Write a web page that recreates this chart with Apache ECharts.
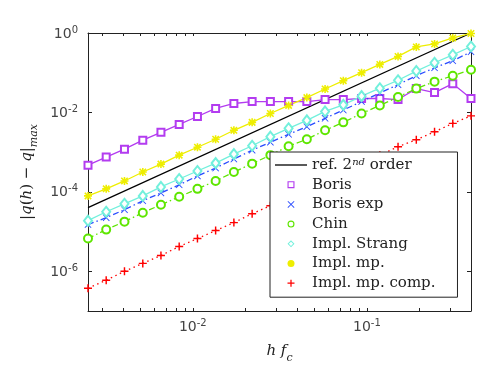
<!DOCTYPE html>
<html>
<head>
<meta charset="utf-8">
<script src="https://cdn.jsdelivr.net/npm/echarts@6/dist/echarts.min.js"></script>
<style>
html, body { margin: 0; padding: 0; background: #fff; }
#chart { width: 491px; height: 369px; }
</style>
</head>
<body>
<div id="chart"></div>
<script>
// step sizes h*f_c
var hfc = [0.0025, 0.00318, 0.00405, 0.00516, 0.00656, 0.00835, 0.01063, 0.01352, 0.01721, 0.02191, 0.02789,
  0.03549, 0.04517, 0.05749, 0.07317, 0.09315, 0.1186, 0.1509, 0.1921, 0.2445, 0.3112, 0.396];

var refX = [0.0025, 0.396];
var refY = [3.99e-5, 1];

var boris = [4.7e-4, 7.5e-4, 1.19e-3, 2.0e-3, 3.16e-3, 5.0e-3, 7.9e-3, 1.26e-2, 1.68e-2, 1.88e-2, 1.88e-2,
  1.88e-2, 1.88e-2, 2.11e-2, 2.11e-2, 2.24e-2, 2.24e-2, 2.11e-2, 3.98e-2, 3.16e-2, 5.3e-2, 2.24e-2];
var borisExp = [1.5e-5, 2.24e-5, 3.55e-5, 5.96e-5, 9.4e-5, 1.5e-4, 2.51e-4, 3.98e-4, 6.7e-4, 1.12e-3, 1.78e-3,
  2.82e-3, 4.37e-3, 7.1e-3, 1.15e-2, 1.88e-2, 3.09e-2, 5.0e-2, 8.4e-2, 0.133, 0.2, 0.335];
var chin = [6.7e-6, 1.12e-5, 1.78e-5, 2.99e-5, 4.73e-5, 7.5e-5, 1.19e-4, 1.88e-4, 3.16e-4, 5.13e-4, 8.4e-4,
  1.41e-3, 2.11e-3, 3.55e-3, 5.62e-3, 9.4e-3, 1.5e-2, 2.45e-2, 3.98e-2, 5.96e-2, 8.4e-2, 0.119];
var implStrang = [1.88e-5, 3.16e-5, 5.0e-5, 7.9e-5, 1.33e-4, 2.11e-4, 3.35e-4, 5.3e-4, 8.9e-4, 1.45e-3, 2.45e-3,
  3.98e-3, 6.3e-3, 1.06e-2, 1.55e-2, 2.57e-2, 4.07e-2, 6.46e-2, 0.11, 0.178, 0.282, 0.457];
var implMp = [7.9e-5, 1.19e-4, 1.88e-4, 3.16e-4, 5.0e-4, 8.4e-4, 1.33e-3, 2.11e-3, 3.55e-3, 5.62e-3, 9.4e-3,
  1.5e-2, 2.37e-2, 3.89e-2, 6.3e-2, 0.1, 0.162, 0.257, 0.447, 0.531, 0.75, 0.972];
var implMpComp = [3.76e-7, 5.96e-7, 1.0e-6, 1.58e-6, 2.51e-6, 4.2e-6, 6.7e-6, 1.06e-5, 1.68e-5, 2.82e-5, 4.47e-5,
  7.5e-5, 1.19e-4, 1.88e-4, 3.16e-4, 5.0e-4, 8.4e-4, 1.37e-3, 2.05e-3, 3.25e-3, 5.3e-3, 8.2e-3];

var xMajor = [0.01, 0.1];
var xTicks = [0.003, 0.004, 0.005, 0.006, 0.007, 0.008, 0.009, 0.01, 0.02, 0.03, 0.04, 0.05, 0.06, 0.07, 0.08, 0.09,
  0.1, 0.2, 0.3];
var yTicks = [1e-6, 1e-4, 1e-2, 1];

function pairs(ys) {
  return hfc.map(function (x, i) { return [x, ys[i]]; });
}

// marker shapes
var P_SQUARE = 'path://M0,0H10V10H0Z M1.6,1.6V8.4H8.4V1.6Z';
var P_X = 'path://M0.9,0L5,4.1L9.1,0L10,0.9L5.9,5L10,9.1L9.1,10L5,5.9L0.9,10L0,9.1L4.1,5L0,0.9Z';
var P_CIRCLE_O = 'path://M5,0A5,5 0 1 1 5,10A5,5 0 1 1 5,0Z M5,1.6A3.4,3.4 0 1 0 5,8.4A3.4,3.4 0 1 0 5,1.6Z';
var P_DIAMOND_O = 'path://M5,0L10,5L5,10L0,5Z M5,1.9L1.9,5L5,8.1L8.1,5Z';
var P_DOT = 'path://M5,0A5,5 0 1 1 5,10A5,5 0 1 1 5,0Z';
var P_STAR = 'path://M4,0H6V10H4Z M0,4H10V6H0Z M1.7,0.3L9.7,8.3L8.3,9.7L0.3,1.7Z M8.3,0.3L9.7,1.7L1.7,9.7L0.3,8.3Z';
var P_PLUS = 'path://M4.1,0H5.9V4.1H10V5.9H5.9V10H4.1V5.9H0V4.1H4.1Z';
var P_LINE = 'path://M0,0H32V1.3H0Z';

function tickLabel(v) {
  var e = Math.round(Math.log10(v));
  return '{b|10}{s|' + e + '}';
}

var labelRich = {
  b: { fontFamily: 'DejaVu Sans', fontSize: 14, color: '#444', lineHeight: 16, verticalAlign: 'bottom' },
  s: { fontFamily: 'DejaVu Sans', fontSize: 10, color: '#444', lineHeight: 10, verticalAlign: 'top' }
};

var chart = echarts.init(document.getElementById('chart'));

chart.setOption({
  animation: false,
  backgroundColor: '#fff',
  grid: { left: 88, top: 33, right: 20, bottom: 57 },
  xAxis: [
    {
      type: 'log', min: 0.0025, max: 0.396, position: 'bottom',
      name: '{i|h f}{sub|c}', nameLocation: 'middle', nameGap: 33,
      nameTextStyle: {
        rich: {
          i: { fontFamily: 'DejaVu Serif', fontStyle: 'italic', fontSize: 15, color: '#222', lineHeight: 20, verticalAlign: 'top' },
          sub: { fontFamily: 'DejaVu Serif', fontStyle: 'italic', fontSize: 11, color: '#222', lineHeight: 11, verticalAlign: 'bottom' }
        }
      },
      axisLine: { show: true, lineStyle: { color: '#222', width: 1 } },
      axisTick: { show: true, inside: true, length: 3, customValues: xTicks, lineStyle: { color: '#222' } },
      axisLabel: { customValues: xMajor, formatter: tickLabel, margin: 7, rich: labelRich },
      splitLine: { show: false }, minorTick: { show: false }
    },
    {
      type: 'log', min: 0.0025, max: 0.396, position: 'top',
      axisLine: { show: true, lineStyle: { color: '#222', width: 1 } },
      axisTick: { show: true, inside: true, length: 3, customValues: xTicks, lineStyle: { color: '#222' } },
      axisLabel: { show: false },
      splitLine: { show: false }
    }
  ],
  yAxis: [
    {
      type: 'log', min: 1e-7, max: 1, position: 'left',
      name: '{r||}{i|q}{r|(}{i|h}{r|) − }{i|q}{r||}{sub|max}', nameLocation: 'middle', nameGap: 48,
      nameTextStyle: {
        rich: {
          r: { fontFamily: 'DejaVu Serif', fontSize: 15, color: '#222', lineHeight: 20, verticalAlign: 'top' },
          i: { fontFamily: 'DejaVu Serif', fontStyle: 'italic', fontSize: 15, color: '#222', lineHeight: 20, verticalAlign: 'top' },
          sub: { fontFamily: 'DejaVu Serif', fontStyle: 'italic', fontSize: 11, color: '#222', lineHeight: 11, verticalAlign: 'bottom' }
        }
      },
      axisLine: { show: true, lineStyle: { color: '#222', width: 1 } },
      axisTick: { show: true, inside: true, length: 4, customValues: yTicks, lineStyle: { color: '#222' } },
      axisLabel: { customValues: yTicks, formatter: tickLabel, margin: 10, rich: labelRich },
      splitLine: { show: false }
    },
    {
      type: 'log', min: 1e-7, max: 1, position: 'right',
      axisLine: { show: true, lineStyle: { color: '#222', width: 1 } },
      axisTick: { show: true, inside: true, length: 4, customValues: yTicks, lineStyle: { color: '#222' } },
      axisLabel: { show: false },
      splitLine: { show: false }
    }
  ],
  legend: {
    orient: 'vertical', left: 270, top: 152,
    itemWidth: 32, itemHeight: 7, itemGap: 3.7,
    padding: [5, 22, 6, 5],
    backgroundColor: '#fff', borderColor: '#222', borderWidth: 1, borderRadius: 0,
    itemStyle: { borderWidth: 0 },
    textStyle: {
      fontFamily: 'DejaVu Serif', fontSize: 15, color: '#222', lineHeight: 16,
      rich: {
        sup: { fontFamily: 'DejaVu Serif', fontStyle: 'italic', fontSize: 10, color: '#222', lineHeight: 10, verticalAlign: 'top' }
      }
    },
    formatter: function (name) {
      return name === 'ref. 2nd order' ? 'ref. 2{sup|nd} order' : name;
    },
    data: [
      { name: 'ref. 2nd order', icon: P_LINE },
      { name: 'Boris', icon: P_SQUARE },
      { name: 'Boris exp', icon: P_X },
      { name: 'Chin', icon: P_CIRCLE_O },
      { name: 'Impl. Strang', icon: P_DIAMOND_O },
      { name: 'Impl. mp.', icon: P_DOT },
      { name: 'Impl. mp. comp.', icon: P_PLUS }
    ]
  },
  series: [
    {
      name: 'ref. 2nd order', type: 'line', symbol: 'none',
      data: refX.map(function (x, i) { return [x, refY[i]]; }),
      lineStyle: { color: '#000', width: 1.3 }, itemStyle: { color: '#000' }
    },
    {
      name: 'Boris', type: 'line', data: pairs(boris),
      symbol: 'emptyRect', symbolSize: 7,
      lineStyle: { color: '#b33cf0', width: 1.3 },
      itemStyle: { color: '#b33cf0', borderColor: '#b33cf0', borderWidth: 1.2 }
    },
    {
      name: 'Boris exp', type: 'line', data: pairs(borisExp),
      symbol: P_X, symbolSize: 7,
      lineStyle: { color: '#2a4cff', width: 1.3, type: [6, 3, 1.5, 3] },
      itemStyle: { color: '#2a4cff' }
    },
    {
      name: 'Chin', type: 'line', data: pairs(chin),
      symbol: 'emptyCircle', symbolSize: 8,
      lineStyle: { color: '#5ee600', width: 1.3, type: [6, 3, 1.5, 3] },
      itemStyle: { color: '#5ee600', borderColor: '#5ee600', borderWidth: 1.3 }
    },
    {
      name: 'Impl. Strang', type: 'line', data: pairs(implStrang),
      symbol: 'emptyDiamond', symbolSize: [8, 10],
      lineStyle: { color: '#72f0dc', width: 1.3 },
      itemStyle: { color: '#72f0dc', borderColor: '#72f0dc', borderWidth: 1.2 }
    },
    {
      name: 'Impl. mp.', type: 'line', data: pairs(implMp),
      symbol: P_STAR, symbolSize: 8,
      lineStyle: { color: '#eeee00', width: 1.3 },
      itemStyle: { color: '#eeee00' }
    },
    {
      name: 'Impl. mp. comp.', type: 'line', data: pairs(implMpComp),
      symbol: P_PLUS, symbolSize: 8,
      lineStyle: { color: '#ff0000', width: 1.3, type: [1.5, 3.5] },
      itemStyle: { color: '#ff0000' }
    }
  ]
});
</script>
</body>
</html>
